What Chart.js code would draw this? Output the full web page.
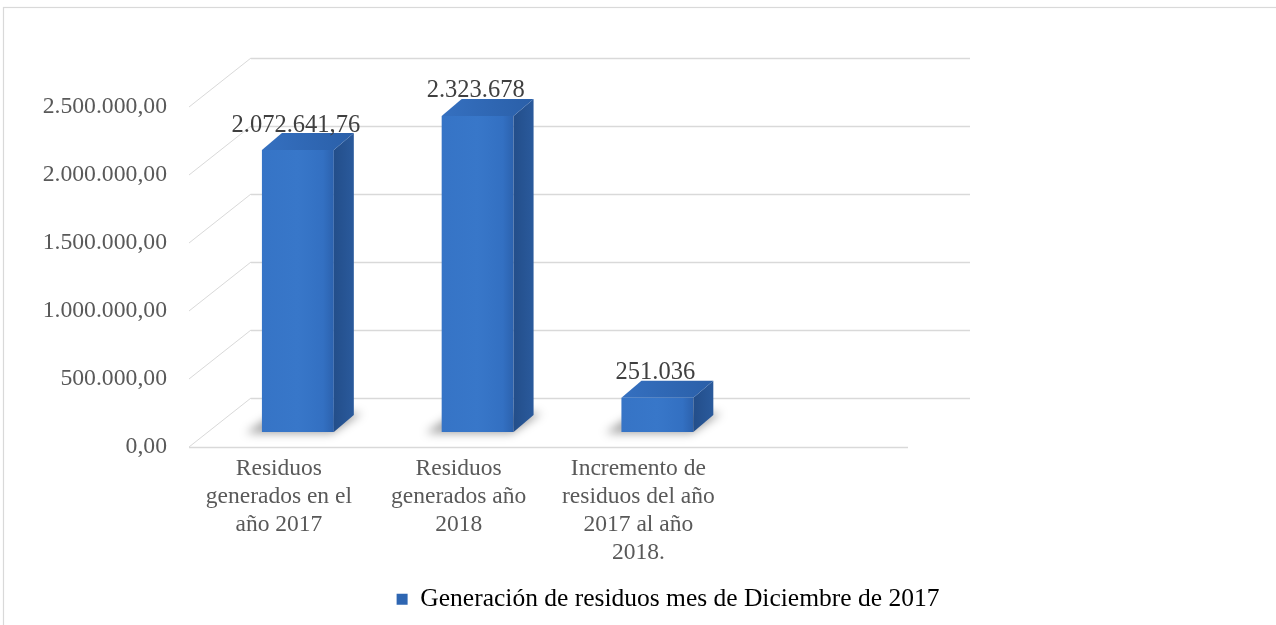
<!DOCTYPE html>
<html>
<head>
<meta charset="utf-8">
<script src="https://cdn.jsdelivr.net/npm/chart.js@4.4.1/dist/chart.umd.min.js"></script>
<style>
  html, body { margin: 0; padding: 0; background: #ffffff; }
  #wrap { width: 1276px; height: 625px; position: relative; }
</style>
</head>
<body>
<div id="wrap"><canvas id="c" width="1276" height="625"></canvas></div>
<script>
// ---- data ----
const categories = [
  ['Residuos', 'generados en el', 'año 2017'],
  ['Residuos', 'generados año', '2018'],
  ['Incremento de', 'residuos del año', '2017 al año', '2018.']
];
const seriesName = 'Generación de residuos mes de Diciembre de 2017';
const seriesValues = [2072641.76, 2323678, 251036];
const yTicks = [0, 500000, 1000000, 1500000, 2000000, 2500000];
const emptySlots = 1; // one empty category slot on the right of the floor

// ---- formatting ----
function fmtNum(v, dec) {
  const fixed = Math.abs(v).toFixed(dec);
  const parts = fixed.split('.');
  const intPart = parts[0].replace(/\B(?=(\d{3})+(?!\d))/g, '.');
  return (v < 0 ? '-' : '') + intPart + (dec > 0 ? ',' + parts[1] : '');
}
function fmtLabel(v) {
  return Number.isInteger(v) ? fmtNum(v, 0) : fmtNum(v, 2);
}

const axisLabels = categories.concat(Array(emptySlots).fill(''));

// ---- 3D geometry (visual style) ----
const FLOOR_DX = 62, FLOOR_DY = -49;   // depth of floor / wall
const BAR_SX = 19, BAR_SY = -15;       // bar plane offset from front plane
const BAR_DX = 20, BAR_DY = -17;       // bar depth
const GRID = '#d9d9d9';
const FONT = "'Liberation Serif', 'Times New Roman', serif";

const threeD = {
  id: 'threeD',
  beforeDraw(chart) {
    const ctx = chart.ctx;
    ctx.save();
    ctx.fillStyle = '#ffffff';
    ctx.fillRect(0, 0, chart.width, chart.height);
    ctx.strokeStyle = GRID;
    ctx.lineWidth = 1.2;
    ctx.strokeRect(3.5, 7.5, chart.width + 20, chart.height + 20);
    ctx.restore();
  },
  beforeDatasetsDraw(chart) {
    const ctx = chart.ctx;
    const y = chart.scales.y, x = chart.scales.x;
    const L = x.left, R = x.right;
    ctx.save();
    // left wall diagonals
    ctx.strokeStyle = GRID;
    ctx.lineWidth = 1;
    yTicks.forEach(t => {
      const py = y.getPixelForValue(t);
      ctx.beginPath();
      ctx.moveTo(L, py);
      ctx.lineTo(L + FLOOR_DX, py + FLOOR_DY);
      ctx.stroke();
    });
    // back wall gridlines
    ctx.lineWidth = 1.6;
    yTicks.forEach(t => {
      const py = Math.round(y.getPixelForValue(t) + FLOOR_DY) + 0.5;
      ctx.beginPath();
      ctx.moveTo(L + FLOOR_DX, py);
      ctx.lineTo(R + FLOOR_DX, py);
      ctx.stroke();
    });
    // front floor edge
    const py0 = Math.round(y.getPixelForValue(0)) + 0.5;
    ctx.beginPath();
    ctx.moveTo(L, py0);
    ctx.lineTo(R, py0);
    ctx.stroke();
    // soft shadows under bars
    const meta = chart.getDatasetMeta(0);
    ctx.filter = 'blur(5px)';
    ctx.fillStyle = 'rgba(0,0,0,0.38)';
    meta.data.forEach(bar => {
      const p = bar.getProps(['x', 'y', 'base', 'width'], true);
      const x0 = p.x - p.width / 2 + BAR_SX, x1 = p.x + p.width / 2 + BAR_SX;
      const b = p.base + BAR_SY;
      ctx.beginPath();
      ctx.moveTo(x0 - 16, b + 1);
      ctx.lineTo(x1 - 2, b + 1);
      ctx.lineTo(x1 + BAR_DX + 8, b + BAR_DY - 2);
      ctx.lineTo(x0 + BAR_DX - 6, b + BAR_DY - 2);
      ctx.closePath();
      ctx.fill();
    });
    ctx.filter = 'none';
    ctx.restore();
  },
  beforeDatasetDraw(chart) {
    chart.ctx.save();
    chart.ctx.translate(BAR_SX, BAR_SY);
  },
  afterDatasetDraw(chart) {
    chart.ctx.restore();
  },
  afterDatasetsDraw(chart) {
    const ctx = chart.ctx;
    const meta = chart.getDatasetMeta(0);
    ctx.save();
    meta.data.forEach((bar, i) => {
      const p = bar.getProps(['x', 'y', 'base', 'width'], true);
      const x0 = p.x - p.width / 2 + BAR_SX, x1 = p.x + p.width / 2 + BAR_SX;
      const top = p.y + BAR_SY, base = p.base + BAR_SY;
      // side face
      let g = ctx.createLinearGradient(x1, 0, x1 + BAR_DX, 0);
      g.addColorStop(0, '#234e8a');
      g.addColorStop(1, '#2a5a9c');
      ctx.fillStyle = g;
      ctx.beginPath();
      ctx.moveTo(x1, top);
      ctx.lineTo(x1 + BAR_DX, top + BAR_DY);
      ctx.lineTo(x1 + BAR_DX, base + BAR_DY);
      ctx.lineTo(x1, base);
      ctx.closePath();
      ctx.fill();
      // top face
      g = ctx.createLinearGradient(x0, top, x1 + BAR_DX, top + BAR_DY);
      g.addColorStop(0, '#3570c0');
      g.addColorStop(1, '#2a5fa8');
      ctx.fillStyle = g;
      ctx.beginPath();
      ctx.moveTo(x0, top);
      ctx.lineTo(x0 + BAR_DX, top + BAR_DY);
      ctx.lineTo(x1 + BAR_DX, top + BAR_DY);
      ctx.lineTo(x1, top);
      ctx.closePath();
      ctx.fill();
      // value label
      ctx.font = '24.5px ' + FONT;
      ctx.fillStyle = '#404040';
      ctx.textAlign = 'center';
      ctx.textBaseline = 'middle';
      ctx.fillText(fmtLabel(seriesValues[i]), (x0 + x1) / 2 - 2, top - 25);
    });
    ctx.restore();
  }
};

function frontFill(c) {
  const xs = c.chart.scales && c.chart.scales.x;
  if (!xs || c.dataIndex === undefined || !isFinite(xs.left)) return '#3470c0';
  const cx = xs.getPixelForValue(c.dataIndex);
  const w = xs.width / axisLabels.length * 0.4;
  const g = c.chart.ctx.createLinearGradient(cx - w / 2, 0, cx + w / 2, 0);
  g.addColorStop(0, '#3674c6');
  g.addColorStop(0.5, '#3877c9');
  g.addColorStop(0.85, '#3370c2');
  g.addColorStop(1, '#2c62ae');
  return g;
}

Chart.defaults.font.family = FONT;
Chart.defaults.color = '#595959';

new Chart(document.getElementById('c'), {
  type: 'bar',
  data: {
    labels: axisLabels,
    datasets: [{
      label: seriesName,
      data: seriesValues,
      backgroundColor: frontFill,
      borderWidth: 0,
      categoryPercentage: 1,
      barPercentage: 0.4,
      clip: false
    }]
  },
  options: {
    responsive: false,
    animation: false,
    devicePixelRatio: 1,
    layout: { padding: { left: 30, top: 107, right: -30, bottom: 3 } },
    plugins: {
      legend: {
        position: 'bottom',
        labels: {
          font: { size: 25.5, family: FONT },
          color: '#595959',
          boxWidth: 11,
          boxHeight: 11,
          padding: 10,
          generateLabels(chart) {
            return [{
              text: seriesName,
              fillStyle: '#2e66b2',
              strokeStyle: '#2e66b2',
              lineWidth: 0,
              hidden: false,
              datasetIndex: 0
            }];
          }
        }
      },
      tooltip: { enabled: false }
    },
    scales: {
      x: {
        type: 'category',
        offset: true,
        afterFit(s) { s.height = 129.5; },
        grid: { display: false, drawTicks: false },
        border: { display: false },
        ticks: {
          autoSkip: false,
          maxRotation: 0,
          padding: 8,
          font: { size: 23.5, family: FONT, lineHeight: 1.19 },
          color: '#595959'
        }
      },
      y: {
        min: 0,
        max: 2500000,
        afterFit(s) { s.width = 159; },
        afterBuildTicks(s) { s.ticks = yTicks.map(v => ({ value: v })); },
        grid: { display: false, drawTicks: false },
        border: { display: false },
        ticks: {
          padding: 22,
          font: { size: 23.7, family: FONT },
          color: '#595959',
          callback(v) { return fmtNum(v, 2); }
        }
      },
      y2: {
        position: 'right',
        min: 0,
        max: 1,
        afterFit(s) { s.width = 398; },
        grid: { display: false, drawTicks: false },
        border: { display: false },
        ticks: { display: false }
      }
    }
  },
  plugins: [threeD]
});
</script>
</body>
</html>
